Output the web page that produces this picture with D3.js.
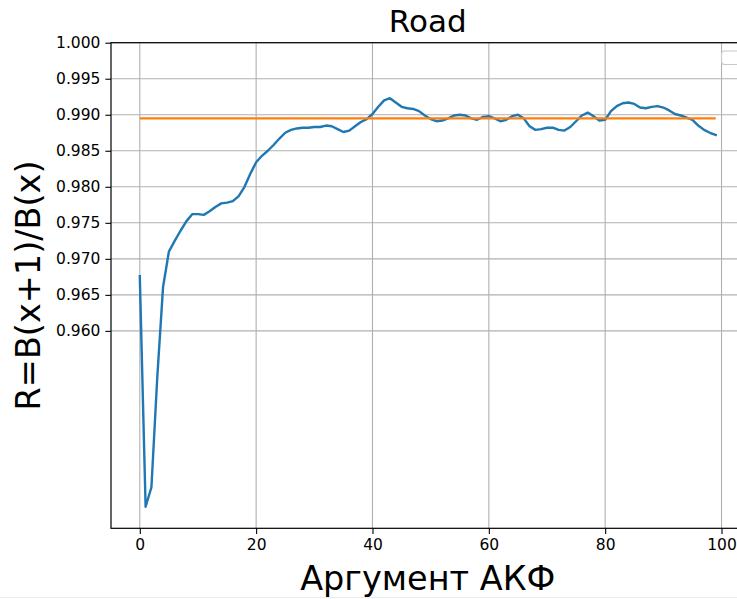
<!DOCTYPE html>
<html>
<head>
<meta charset="utf-8">
<script src="https://cdn.jsdelivr.net/npm/d3@7"></script>
<style>
  html, body { margin: 0; padding: 0; background: #fff; }
  svg { display: block; }
</style>
</head>
<body>
<svg id="chart" width="737" height="599"></svg>
<script>
// Ratio of neighbouring autocorrelation values, lags 0..99
const lags = d3.range(0, 100);
const ratio = [
  0.9676, 0.9356, 0.9383, 0.9535, 0.9661, 0.9710, 0.9725, 0.9739, 0.9752, 0.9762,
  0.9762, 0.9761, 0.9766, 0.9772, 0.9777, 0.9778, 0.9780, 0.9787, 0.9800, 0.9818,
  0.9834, 0.9843, 0.9850, 0.9858, 0.9867, 0.9875, 0.9879, 0.9881, 0.9882, 0.9882,
  0.9883, 0.9883, 0.9885, 0.9884, 0.9880, 0.9876, 0.9878, 0.9884, 0.9890, 0.9894,
  0.9901, 0.9911, 0.9920, 0.9923, 0.9917, 0.9911, 0.9909, 0.9908, 0.9905, 0.9899,
  0.9894, 0.9891, 0.9892, 0.9895, 0.9899, 0.9900, 0.9899, 0.9895, 0.9893, 0.9897,
  0.9898, 0.9895, 0.9891, 0.9893, 0.9898, 0.9900, 0.9895, 0.9884, 0.9879, 0.9880,
  0.9882, 0.9882, 0.9879, 0.9878, 0.9883, 0.9891, 0.9899, 0.9903, 0.9898, 0.9892,
  0.9893, 0.9905, 0.9912, 0.9916, 0.9917, 0.9915, 0.9910, 0.9909, 0.9911, 0.9912,
  0.9910, 0.9906, 0.9901, 0.9899, 0.9896, 0.9893, 0.9885, 0.9879, 0.9875, 0.9872
];
// Horizontal reference level
const refLevel = 0.9895;
const refLags = [0, 99];

const xTicks = [0, 20, 40, 60, 80, 100];
const yTicks = [0.960, 0.965, 0.970, 0.975, 0.980, 0.985, 0.990, 0.995, 1.000];

const titleText = "Road";
const xLabelText = "Аргумент АКФ";
const yLabelText = "R=B(x+1)/B(x)";

const FONT = "'DejaVu Sans', sans-serif";
const svg = d3.select("#chart");
svg.append("rect").attr("width", 737).attr("height", 599).attr("fill", "#fff");

const plot = { left: 111, right: 744.5, top: 42.7, bottom: 528.3 };

const x = d3.scaleLinear().domain([-4.95, 103.95]).range([plot.left, plot.right]);
const y = d3.scaleLinear().domain([0.9326, 1.0]).range([plot.bottom, plot.top]);

// grid
const grid = svg.append("g").attr("stroke", "#b0b0b0").attr("stroke-width", 1.1);
grid.selectAll("line.vx").data(xTicks).join("line")
  .attr("x1", d => x(d)).attr("x2", d => x(d))
  .attr("y1", plot.top).attr("y2", plot.bottom);
grid.selectAll("line.hy").data(yTicks).join("line")
  .attr("x1", plot.left).attr("x2", plot.right)
  .attr("y1", d => y(d)).attr("y2", d => y(d));

// series
const line = d3.line().x((d, i) => x(lags[i])).y(d => y(d));
svg.append("path").datum(ratio)
  .attr("fill", "none").attr("stroke", "#1f77b4")
  .attr("stroke-width", 2.4).attr("stroke-linejoin", "round").attr("stroke-linecap", "square")
  .attr("d", line);

svg.append("line")
  .attr("x1", x(refLags[0])).attr("x2", x(refLags[1]))
  .attr("y1", y(refLevel)).attr("y2", y(refLevel))
  .attr("stroke", "#ff7f0e").attr("stroke-width", 2.4);

// axes
const xAxis = d3.axisBottom(x).tickValues(xTicks).tickSize(5.6).tickPadding(5).tickFormat(d3.format("d"));
const yAxis = d3.axisLeft(y).tickValues(yTicks).tickSize(5.6).tickPadding(5).tickFormat(d3.format(".3f"));

const gx = svg.append("g").attr("transform", `translate(0,${plot.bottom})`).call(xAxis);
const gy = svg.append("g").attr("transform", `translate(${plot.left},0)`).call(yAxis);
[gx, gy].forEach(g => {
  g.select(".domain").remove();
  g.selectAll(".tick line").attr("stroke", "#000").attr("stroke-width", 1.1);
  g.selectAll(".tick text").attr("font-family", FONT).attr("font-size", 15.5).attr("fill", "#000");
});

// frame
const frame = svg.append("g").attr("stroke", "#000").attr("stroke-width", 1.2).attr("fill", "none");
frame.append("rect")
  .attr("x", plot.left).attr("y", plot.top)
  .attr("width", plot.right - plot.left).attr("height", plot.bottom - plot.top);

// empty legend box
svg.append("rect")
  .attr("x", 721.5).attr("y", 51).attr("width", 18).attr("height", 13.5).attr("rx", 3)
  .attr("fill", "#fff").attr("fill-opacity", 0.8)
  .attr("stroke", "#c8c8c8").attr("stroke-width", 1.1);

// labels
svg.append("text").text(titleText)
  .attr("x", (plot.left + plot.right) / 2).attr("y", 32)
  .attr("text-anchor", "middle").attr("font-family", FONT).attr("font-size", 31);

svg.append("text").text(xLabelText)
  .attr("x", (plot.left + plot.right) / 2).attr("y", 590)
  .attr("text-anchor", "middle").attr("font-family", FONT).attr("font-size", 33.5);

svg.append("text").text(yLabelText)
  .attr("transform", `translate(40,${(plot.top + plot.bottom) / 2}) rotate(-90)`)
  .attr("text-anchor", "middle").attr("font-family", FONT).attr("font-size", 33.5);

// thin bottom rule
svg.append("line").attr("x1", 0).attr("x2", 737).attr("y1", 597.5).attr("y2", 597.5)
  .attr("stroke", "#ececec").attr("stroke-width", 1);
</script>
</body>
</html>
